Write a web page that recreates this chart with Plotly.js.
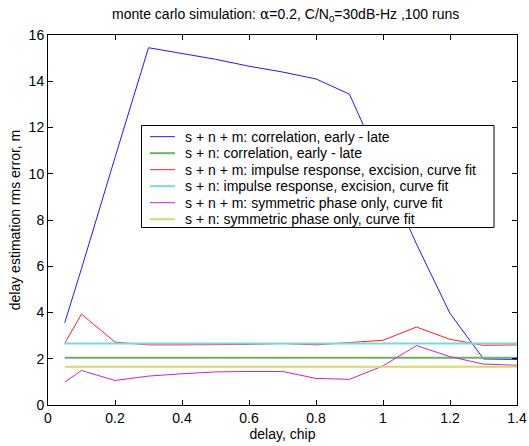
<!DOCTYPE html>
<html>
<head>
<meta charset="utf-8">
<script src="https://cdn.plot.ly/plotly-3.0.1.min.js"></script>
<style>
  html, body { margin: 0; padding: 0; background: #fff; }
  #chart { width: 529px; height: 446px; }
</style>
</head>
<body>
<div id="chart"></div>
<script>
// Delay offsets (chips) at which the estimators were evaluated
const delay = [0.05, 0.1, 0.2, 0.3, 0.4, 0.5, 0.6, 0.7, 0.8, 0.9, 1.0, 1.1, 1.2, 1.3, 1.4];

// RMS delay-estimation error (m) for each estimator
const snmCorrelation   = [3.56, 5.9, 10.7, 15.45, 15.2, 14.95, 14.65, 14.4, 14.1, 13.44, 10.2, 6.96, 3.96, 1.99, 1.97];
const snCorrelation    = [2.04, 2.04, 2.04, 2.04, 2.04, 2.04, 2.04, 2.04, 2.04, 2.04, 2.04, 2.04, 2.04, 2.04, 2.04];
const snmImpulse       = [2.67, 3.93, 2.72, 2.6, 2.6, 2.6, 2.62, 2.66, 2.6, 2.7, 2.8, 3.37, 2.84, 2.58, 2.6];
const snImpulse        = [2.66, 2.66, 2.66, 2.66, 2.66, 2.66, 2.66, 2.66, 2.66, 2.66, 2.66, 2.66, 2.66, 2.66, 2.66];
const snmSymmetric     = [0.99, 1.49, 1.06, 1.25, 1.35, 1.43, 1.45, 1.45, 1.15, 1.11, 1.69, 2.57, 2.09, 1.77, 1.72];
const snSymmetric      = [1.65, 1.65, 1.65, 1.65, 1.65, 1.65, 1.65, 1.65, 1.65, 1.65, 1.65, 1.65, 1.65, 1.65, 1.65];

const seriesNames = [
  's + n + m: correlation, early - late',
  's + n: correlation, early - late',
  's + n + m: impulse response, excision, curve fit',
  's + n: impulse response, excision, curve fit',
  's + n + m: symmetric phase only, curve fit',
  's + n: symmetric phase only, curve fit'
];
const seriesValues = [snmCorrelation, snCorrelation, snmImpulse, snImpulse, snmSymmetric, snSymmetric];
const seriesColors = ['#1a1aff', '#6ab26a', '#ff2020', '#74dcdc', '#cc22cc', '#d8d86a'];
const seriesWidths = [1, 2, 1, 2, 1, 2];

const traces = seriesValues.map((ys, i) => ({
  x: delay,
  y: ys,
  name: seriesNames[i],
  type: 'scatter',
  mode: 'lines',
  line: { color: seriesColors[i], width: seriesWidths[i] },
  showlegend: false
}));

const FAMILY = 'Liberation Sans, Arial, Helvetica, sans-serif';
const font = { family: FAMILY, size: 14, color: '#000' };

// Plot-area geometry in pixels, used to place the boxed legend in paper units
const W = 529, H = 446;
const M = { l: 48, r: 12, t: 35, b: 41 };
const plotW = W - M.l - M.r, plotH = H - M.t - M.b;
const px = v => (v - M.l) / plotW;          // pixel x -> paper x
const py = v => (H - M.b - v) / plotH;      // pixel y -> paper y

// Compact legend: bordered box, short line sample and label per series
const legendBox = { x0: 141.5, x1: 494, y0: 125.5, y1: 227.5 };
const rowTop = 136.7, rowStep = 16.5;
const sampleX0 = 150, sampleX1 = 175, labelX = 183;

const shapes = [{
  type: 'rect', xref: 'paper', yref: 'paper', layer: 'above',
  x0: px(legendBox.x0), x1: px(legendBox.x1), y0: py(legendBox.y1), y1: py(legendBox.y0),
  line: { color: '#000', width: 1 }, fillcolor: '#fff'
}];
const annotations = [];
seriesNames.forEach((name, i) => {
  const yRow = rowTop + rowStep * i;
  shapes.push({
    type: 'line', xref: 'paper', yref: 'paper', layer: 'above',
    x0: px(sampleX0), x1: px(sampleX1), y0: py(yRow), y1: py(yRow),
    line: { color: seriesColors[i], width: seriesWidths[i] }
  });
  annotations.push({
    xref: 'paper', yref: 'paper', x: px(labelX), y: py(yRow),
    xanchor: 'left', yanchor: 'middle', showarrow: false,
    text: name, font: font
  });
});

const axisCommon = {
  showgrid: false,
  zeroline: false,
  showline: true,
  linecolor: '#000',
  linewidth: 1,
  mirror: 'ticks',
  ticks: 'inside',
  ticklen: 5,
  tickcolor: '#000',
  tickfont: font
};

const layout = {
  width: W,
  height: H,
  margin: M,
  paper_bgcolor: '#fff',
  plot_bgcolor: '#fff',
  font: font,
  title: {
    text: 'monte carlo simulation: <span style="font-family:DejaVu Serif, serif">α</span>=0.2, C/N<sub>0</sub>=30dB-Hz ,100 runs',
    font: font,
    x: 0.54,
    xanchor: 'center',
    y: 0.968,
    yanchor: 'middle'
  },
  xaxis: Object.assign({}, axisCommon, {
    range: [0, 1.4],
    dtick: 0.2,
    tick0: 0,
    title: { text: 'delay, chip', font: font, standoff: 4 }
  }),
  yaxis: Object.assign({}, axisCommon, {
    range: [0, 16],
    dtick: 2,
    tick0: 0,
    title: { text: 'delay estimation rms error, m', font: font, standoff: 4 }
  }),
  showlegend: false,
  shapes: shapes,
  annotations: annotations
};

Plotly.newPlot('chart', traces, layout, { displayModeBar: false, staticPlot: true });
</script>
</body>
</html>
